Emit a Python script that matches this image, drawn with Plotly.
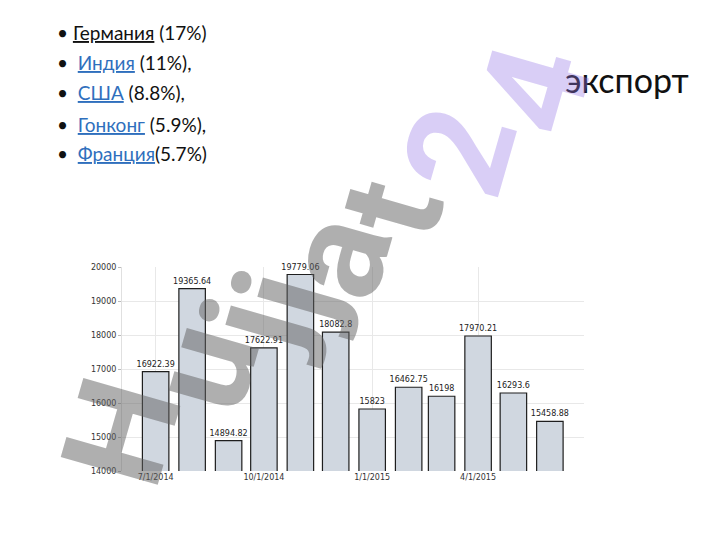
import plotly.graph_objects as go

# ---- data ----
months = ["2014-07-01", "2014-08-01", "2014-09-01", "2014-10-01", "2014-11-01", "2014-12-01",
          "2015-01-01", "2015-02-01", "2015-03-01", "2015-04-01", "2015-05-01", "2015-06-01"]
values = [16922.39, 19365.64, 14894.82, 17622.91, 19779.06, 18082.8,
          15823, 16462.75, 16198, 17970.21, 16293.6, 15458.88]
tick_dates = ["2014-07-01", "2014-10-01", "2015-01-01", "2015-04-01"]
tick_labels = ["7/1/2014", "10/1/2014", "1/1/2015", "4/1/2015"]
y_ticks = [14000, 15000, 16000, 17000, 18000, 19000, 20000]
y_tick_labels = ["14000", "15000", "16000", "17000", "18000", "19000", "20000"]

bullet_countries = ["Германия", "Индия", "США", "Гонконг", "Франция"]
bullet_shares = [" (17%)", " (11%),", " (8.8%),", " (5.9%),", "(5.7%)"]
title_text = "экспорт"
watermark_letters = ["H", "u", "j", "j", "a", "t", "2", "4"]

# ---- layout geometry (screen pixels; page body has an 8px margin) ----
W_FIG, H_FIG = 720, 540
OFF = 8
L, R, T, B = 122, 584, 267, 471


def px(x):
    return (x - L) / (R - L)


def py(y):
    return (B - y) / (B - T)


fig = go.Figure()
fig.add_trace(go.Bar(
    x=months, y=values,
    width=22.5 * 86400000,
    marker=dict(color="#d0d7e0", line=dict(color="#1e1e1e", width=1.2)),
    text=[str(v) for v in values],
    textposition="outside",
    constraintext="none",
    textfont=dict(family="DejaVu Sans", size=8, color="#222"),
    cliponaxis=False,
    hoverinfo="x+y",
))

annotations = []
bullet_y = [32, 62, 92, 124, 153]
for i, (c, s) in enumerate(zip(bullet_countries, bullet_shares)):
    color = "#111" if i == 0 else "#2f6fbd"
    gap = " " if i == 0 else "  "
    annotations.append(dict(
        xref="paper", yref="paper", x=px(55), y=py(bullet_y[i]),
        xanchor="left", yanchor="middle", showarrow=False,
        text=f"•{gap}<span style='color:{color}'><u>{c}</u></span>{s}",
        font=dict(family="Lato", size=19, color="#111"),
    ))

annotations.append(dict(
    xref="paper", yref="paper", x=px(691), y=py(80),
    xanchor="right", yanchor="middle", showarrow=False,
    text=title_text, font=dict(family="Lato", size=34, color="#111"),
))

# watermark: letters placed along a slanted path (screen pixel positions)
wm_pos = [(122, 432), (203, 366), (252, 326), (284, 298), (336, 256), (392, 209), (460, 152), (535, 90)]
for i, (ch, (wx, wy)) in enumerate(zip(watermark_letters, wm_pos)):
    col = "rgba(95,95,95,0.5)" if i < 6 else "rgba(150,120,230,0.36)"
    annotations.append(dict(
        xref="paper", yref="paper", x=px(wx), y=py(wy),
        xanchor="center", yanchor="middle", showarrow=False,
        textangle=-74, text=f"<b>{ch}</b>",
        font=dict(family="Roboto", size=142, color=col),
    ))

fig.update_layout(
    width=W_FIG, height=H_FIG,
    margin=dict(l=L - OFF, r=W_FIG + OFF - R, t=T - OFF, b=H_FIG + OFF - B, pad=0),
    paper_bgcolor="white", plot_bgcolor="white",
    showlegend=False,
    annotations=annotations,
    xaxis=dict(
        type="date",
        range=["2014-06-02 10:00", "2015-06-30"],
        tickvals=tick_dates, ticktext=tick_labels,
        showgrid=True, gridcolor="#e8e8e8", gridwidth=1,
        showline=False, zeroline=False, ticks="",
        tickfont=dict(family="DejaVu Sans", size=8, color="#333"),
    ),
    yaxis=dict(
        range=[14000, 20000],
        tickvals=y_ticks, ticktext=y_tick_labels,
        showgrid=True, gridcolor="#e8e8e8", gridwidth=1,
        showline=True, linecolor="#e0e0e0", zeroline=False,
        ticks="outside", ticklen=3, tickcolor="#bbb",
        tickfont=dict(family="DejaVu Sans", size=8, color="#333"),
    ),
)

fig.write_html("out.html")
